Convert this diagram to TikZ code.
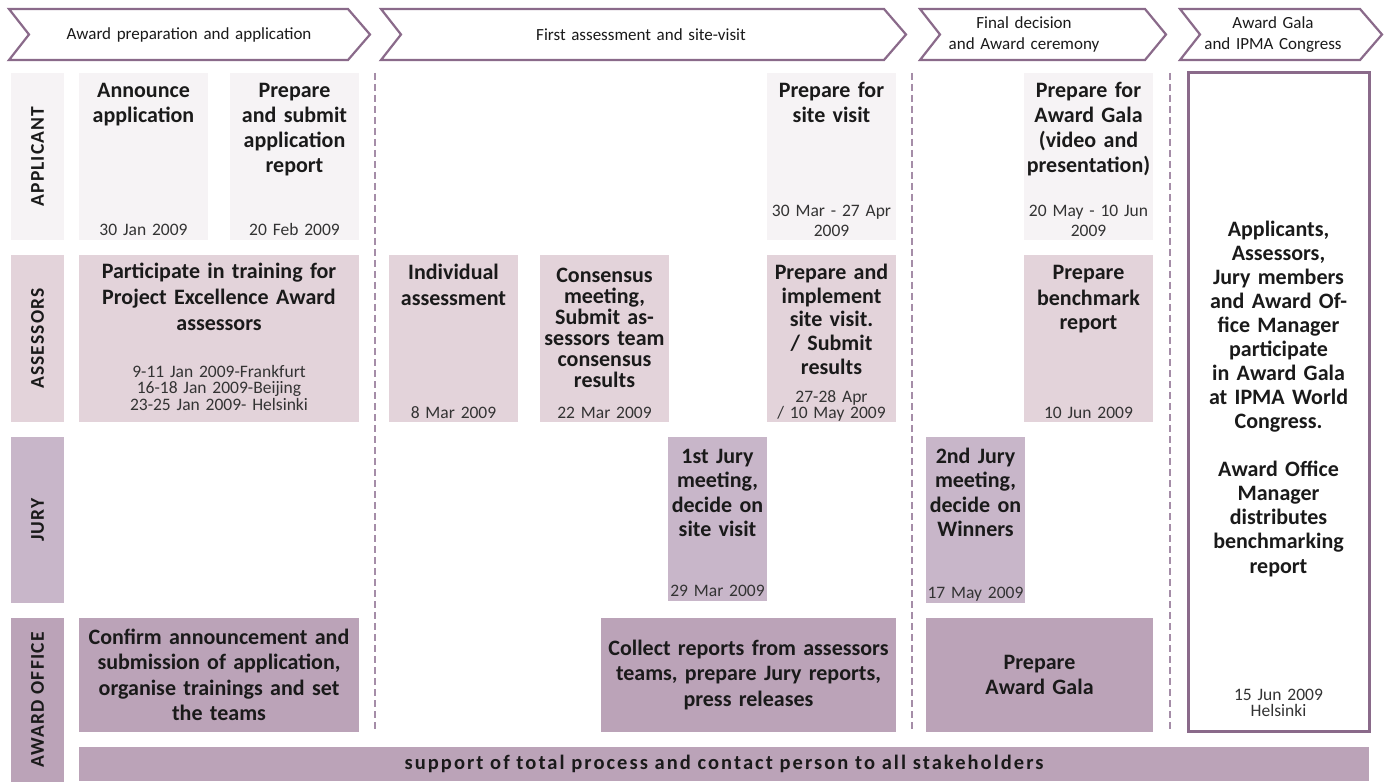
\documentclass[tikz,border=0pt]{standalone}
\usepackage{fontspec}
\setmainfont{Carlito}
\usetikzlibrary{fit}
\definecolor{cA}{HTML}{F6F3F5}
\definecolor{cS}{HTML}{E3D3DA}
\definecolor{cJ}{HTML}{C8B6C9}
\definecolor{cO}{HTML}{BBA3B8}
\definecolor{cLine}{HTML}{8A6A8A}
\definecolor{cDash}{HTML}{A58DA8}
\definecolor{cTxt}{HTML}{1A1A1A}
\definecolor{cDate}{HTML}{333333}
\tikzset{
  box/.style={inner sep=0pt, outer sep=0pt},
  ttl/.style={anchor=base, inner sep=0pt, align=center, text width=320pt, text=cTxt, font=\bfseries\fontsize{22}{25}\selectfont},
  ctr/.style={anchor=center, inner sep=0pt, align=center, text width=320pt, text=cTxt, font=\bfseries\fontsize{22}{25.5}\selectfont},
  dt/.style={anchor=base, inner sep=0pt, align=center, text width=320pt, text=cDate, font=\fontsize{17.5}{18}\selectfont},
  lbl/.style={rotate=90, inner sep=0pt, text=cTxt, font=\bfseries\fontsize{19.5}{19.5}\selectfont\addfontfeature{LetterSpace=6}},
  hdr/.style={anchor=center, inner sep=0pt, align=center, text width=300pt, text=cTxt, font=\fontsize{17}{21}\selectfont},
  chev/.style={draw=cLine, line width=2.2pt, line join=miter},
  sep/.style={draw=cDash, line width=2pt, dash pattern=on 7pt off 4pt},
}
\begin{document}
\begin{tikzpicture}[x=1pt,y=-1pt]
\fill[white] (0,0) rectangle (1391,783);
\useasboundingbox (0,0) rectangle (1391,783);

% ---------- header chevrons ----------
\draw[chev] (9,9) -- (348,9) -- (370,34.5) -- (348,60) -- (9,60) -- (29,34.5) -- cycle;
\draw[chev] (381,9) -- (884,9) -- (906,34.5) -- (884,60) -- (381,60) -- (401,34.5) -- cycle;
\draw[chev] (920,9) -- (1145,9) -- (1166,34.5) -- (1145,60) -- (920,60) -- (940,34.5) -- cycle;
\draw[chev] (1180,9) -- (1360,9) -- (1382,34.5) -- (1360,60) -- (1180,60) -- (1200,34.5) -- cycle;
\node[hdr] (h1) at (189,34.5) {Award preparation and application};
\node[hdr] (h2) at (641,34.5) {First assessment and site-visit};
\node[hdr] (h3) at (1024,34.5) {Final decision\\and Award ceremony};
\node[hdr] (h4) at (1273,34.5) {Award Gala\\and IPMA Congress};

% ---------- phase separators ----------
\draw[sep] (375,73) -- (375,732);
\draw[sep] (912,73) -- (912,732);
\draw[sep] (1170,73) -- (1170,732);

% ---------- row labels ----------
\node[box, fill=cA, fit={(11,73)(64,240)}] (lA) {};
\node[lbl] (lAt) at (lA.center) {APPLICANT};
\node[box, fill=cS, fit={(11,255)(64,422)}] (lS) {};
\node[lbl] (lSt) at (lS.center) {ASSESSORS};
\node[box, fill=cJ, fit={(11,437)(64,603)}] (lJ) {};
\node[lbl] (lJt) at (lJ.center) {JURY};
\node[box, fill=cO, fit={(11,618)(64,782)}] (lO) {};
\node[lbl] (lOt) at (lO.center) {AWARD OFFICE};

% ---------- applicant row ----------
\node[box, fill=cA, fit={(79,73)(208,240)}] (a1) {};
\node[ttl] (a1t) at ([yshift=-25pt]a1.north) {Announce\\application};
\node[dt] (a1d) at ([yshift=4pt]a1.south) {30 Jan 2009};

\node[box, fill=cA, fit={(230,73)(359,240)}] (a2) {};
\node[ttl] (a2t) at ([yshift=-25pt]a2.north) {Prepare\\and submit\\application\\report};
\node[dt] (a2d) at ([yshift=4pt]a2.south) {20 Feb 2009};

\node[box, fill=cA, fit={(767,73)(896,240)}] (a3) {};
\node[ttl] (a3t) at ([yshift=-25pt]a3.north) {Prepare for\\site visit};
\node[dt, font=\fontsize{17.5}{19.5}\selectfont] (a3d) at ([yshift=23pt]a3.south) {30 Mar - 27 Apr\\2009};

\node[box, fill=cA, fit={(1024,73)(1153,240)}] (a4) {};
\node[ttl] (a4t) at ([yshift=-25pt]a4.north) {Prepare for\\Award Gala\\(video and\\presentation)};
\node[dt, font=\fontsize{17.5}{19.5}\selectfont] (a4d) at ([yshift=23pt]a4.south) {20 May - 10 Jun\\2009};

% ---------- assessors row ----------
\node[box, fill=cS, fit={(79,255)(359,422)}] (s1) {};
\node[ttl, font=\bfseries\fontsize{22}{26}\selectfont] (s1t) at ([yshift=-24pt]s1.north) {Participate in training for\\Project Excellence Award\\assessors};
\node[dt, font=\fontsize{17.5}{16.5}\selectfont] (s1d) at ([yshift=45pt]s1.south) {9-11 Jan 2009-Frankfurt\\16-18 Jan 2009-Beijing\\23-25 Jan 2009- Helsinki};

\node[box, fill=cS, fit={(389,255)(518,422)}] (s2) {};
\node[ttl] (s2t) at ([yshift=-25pt]s2.north) {Individual\\assessment};
\node[dt] (s2d) at ([yshift=4pt]s2.south) {8 Mar 2009};

\node[box, fill=cS, fit={(540,255)(669,422)}] (s3) {};
\node[ttl, font=\bfseries\fontsize{22}{21}\selectfont] (s3t) at ([yshift=-28pt]s3.north) {Consensus\\meeting,\\Submit as-\\sessors team\\consensus\\results};
\node[dt] (s3d) at ([yshift=4pt]s3.south) {22 Mar 2009};

\node[box, fill=cS, fit={(767,255)(896,422)}] (s4) {};
\node[ttl, font=\bfseries\fontsize{22}{23.5}\selectfont] (s4t) at ([yshift=-25pt]s4.north) {Prepare and\\implement\\site visit.\\/ Submit\\results};
\node[dt, font=\fontsize{17.5}{16.5}\selectfont] (s4d) at ([yshift=20pt]s4.south) {27-28 Apr\\/ 10 May 2009};

\node[box, fill=cS, fit={(1024,255)(1153,422)}] (s5) {};
\node[ttl] (s5t) at ([yshift=-25pt]s5.north) {Prepare\\benchmark\\report};
\node[dt] (s5d) at ([yshift=4pt]s5.south) {10 Jun 2009};

% ---------- jury row ----------
\node[box, fill=cJ, fit={(668,437)(767,601)}] (j1) {};
\node[ttl, font=\bfseries\fontsize{22}{24.6}\selectfont] (j1t) at ([yshift=-26pt]j1.north) {1st Jury\\meeting,\\decide on\\site visit};
\node[dt] (j1d) at ([yshift=5pt]j1.south) {29 Mar 2009};

\node[box, fill=cJ, fit={(926,437)(1025,603)}] (j2) {};
\node[ttl, font=\bfseries\fontsize{22}{24.6}\selectfont] (j2t) at ([yshift=-26pt]j2.north) {2nd Jury\\meeting,\\decide on\\Winners};
\node[dt] (j2d) at ([yshift=5pt]j2.south) {17 May 2009};

% ---------- award office row ----------
\node[box, fill=cO, fit={(79,618)(359,732)}] (o1) {};
\node[ctr] (o1t) at (o1.center) {Confirm announcement and\\submission of application,\\organise trainings and set\\the teams};

\node[box, fill=cO, fit={(601,618)(896,732)}] (o2) {};
\node[ctr] (o2t) at (o2.center) {Collect reports from assessors\\teams, prepare Jury reports,\\press releases};

\node[box, fill=cO, fit={(926,618)(1153,732)}] (o3) {};
\node[ctr] (o3t) at (o3.center) {Prepare\\Award Gala};

% ---------- award gala box ----------
\node[box, draw=cLine, line width=3pt, fill=white, fit={(1188,73)(1369,731)}] (gala) {};
\node[ttl, font=\bfseries\fontsize{22}{24}\selectfont] (galat) at ([yshift=-164pt]gala.north) {Applicants,\\Assessors,\\Jury members\\and Award Of-\\fice Manager\\participate\\in Award Gala\\at IPMA World\\Congress.\\[24pt]Award Office\\Manager\\distributes\\benchmarking\\report};
\node[dt, font=\fontsize{17.5}{16}\selectfont] (galad) at ([yshift=31pt]gala.south) {15 Jun 2009\\Helsinki};

% ---------- support bar ----------
\node[box, fill=cO, fit={(79,747)(1369,781)}] (sup) {};
\node[inner sep=0pt, text=cTxt, font=\bfseries\fontsize{20.5}{20.5}\selectfont\addfontfeature{LetterSpace=10}] (supt) at (sup.center) {support of total process and contact person to all stakeholders};
\end{tikzpicture}
\end{document}
